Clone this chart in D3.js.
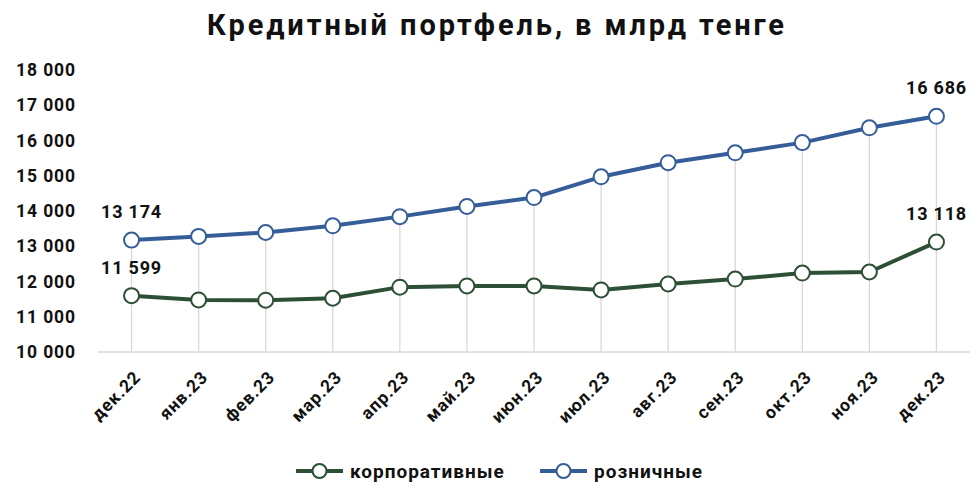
<!DOCTYPE html>
<html><head><meta charset="utf-8">
<script src="https://cdn.jsdelivr.net/npm/d3@7"></script>
<style>
html,body{margin:0;padding:0;background:#fff;}
svg text{font-family:Roboto,"DejaVu Sans",sans-serif;font-weight:700;fill:#111;}
</style></head>
<body><svg id="c" width="977" height="498"></svg>
<script>
const categories = ["дек.22","янв.23","фев.23","мар.23","апр.23","май.23","июн.23","июл.23","авг.23","сен.23","окт.23","ноя.23","дек.23"];
const corporate = [11599,11477,11470,11525,11840,11875,11875,11760,11930,12070,12240,12270,13118];
const retail = [13174,13280,13390,13580,13840,14130,14380,14970,15370,15650,15940,16360,16686];
const yTicks = [10000,11000,12000,13000,14000,15000,16000,17000,18000];
const seriesNames = ["корпоративные","розничные"];
const title = "Кредитный портфель, в млрд тенге";

(function(){
const colors = {corp:"#2d4f36", retail:"#355d98"};
const svg = d3.select("#c");
const mLeft = 98, mRight = 970, mTop = 70, mBottom = 352;

const loc = d3.formatLocale({decimal:",", thousands:"\u00a0", grouping:[3], currency:["",""]});
const fmt = loc.format(",d");

const x = d3.scaleBand().domain(categories).range([mLeft, mRight]);
const y = d3.scaleLinear().domain([10000,18000]).range([mBottom, mTop]);
const cx = c => x(c) + x.bandwidth()/2;

// title
svg.append("text").attr("x", 497).attr("y", 35).attr("text-anchor","middle")
  .style("font-size","29px").style("letter-spacing","2.9px").text(title);

// drop lines
svg.append("g").selectAll("line").data(categories).join("line")
  .attr("x1", d=>cx(d)).attr("x2", d=>cx(d))
  .attr("y1", y(10000)).attr("y2", (d,i)=>y(retail[i]))
  .attr("stroke","#d9d9d9").attr("stroke-width",1.3);

// baseline
svg.append("line").attr("x1", mLeft).attr("x2", mRight).attr("y1", y(10000)).attr("y2", y(10000))
  .attr("stroke","#d9d9d9").attr("stroke-width",1.5);

// y axis
const yAxis = d3.axisLeft(y).tickValues(yTicks).tickFormat(fmt).tickSize(0).tickPadding(0);
const gy = svg.append("g").attr("transform","translate(76,0)").call(yAxis);
gy.select(".domain").remove();
gy.selectAll("text").style("font-size","17.5px").attr("fill","#111").style("letter-spacing","0.9px");

// x axis
const xAxis = d3.axisBottom(x).tickSize(0).tickPadding(0);
const gx = svg.append("g").attr("transform",`translate(0,${mBottom})`).call(xAxis);
gx.select(".domain").remove();
gx.selectAll("text").style("font-size","17.5px").attr("fill","#111")
  .attr("text-anchor","end").attr("dy","0.35em")
  .attr("transform","translate(6,22) rotate(-45)").style("letter-spacing","0.9px");

const line = d3.line().x((d,i)=>cx(categories[i])).y(d=>y(d));
function drawSeries(data, color){
  svg.append("path").datum(data).attr("d", line).attr("fill","none")
    .attr("stroke", color).attr("stroke-width",4).attr("stroke-linejoin","round");
  svg.append("g").selectAll("circle").data(data).join("circle")
    .attr("cx",(d,i)=>cx(categories[i])).attr("cy", d=>y(d)).attr("r",7.5)
    .attr("fill","#fff").attr("stroke",color).attr("stroke-width",2);
}
drawSeries(corporate, colors.corp);
drawSeries(retail, colors.retail);

// data labels (first and last)
const last = categories.length-1;
[[retail,0],[corporate,0],[retail,last],[corporate,last]].forEach(([s,i])=>{
  svg.append("text").attr("x", cx(categories[i])).attr("y", y(s[i]) - 22)
    .attr("text-anchor","middle").style("font-size","18px").style("letter-spacing","0.8px")
    .text(fmt(s[i]));
});

// legend
const legend = [[seriesNames[0], colors.corp, 296],[seriesNames[1], colors.retail, 540]];
legend.forEach(([name,color,lx])=>{
  const g = svg.append("g").attr("transform",`translate(${lx},471)`);
  g.append("line").attr("x1",0).attr("x2",47).attr("stroke",color).attr("stroke-width",4);
  g.append("circle").attr("cx",23.5).attr("r",7).attr("fill","#fff").attr("stroke",color).attr("stroke-width",2);
  g.append("text").attr("x",54).attr("dy","0.35em").style("font-size","19px").style("letter-spacing","1px").text(name);
});
})();
</script></body></html>
